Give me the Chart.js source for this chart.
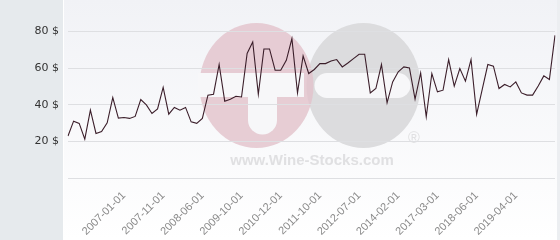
<!DOCTYPE html>
<html>
<head>
<meta charset="utf-8">
<script src="https://cdn.jsdelivr.net/npm/chart.js@4/dist/chart.umd.min.js"></script>
<style>
  html, body { margin: 0; padding: 0; background: #ffffff; }
  #wrap { width: 560px; height: 240px; position: relative; }
</style>
</head>
<body>
<div id="wrap"><canvas id="c" width="560" height="240"></canvas></div>
<script>
// Price per point (in $)
const prices = [
  22.9, 31.0, 29.8, 21.2, 37.0, 24.3, 25.4, 30.1, 43.9, 32.7,
  33.0, 32.5, 33.6, 42.8, 39.9, 35.2, 37.7, 49.4, 34.8, 38.5,
  37.0, 38.5, 30.6, 29.8, 32.5, 45.2, 45.7, 61.9, 41.9, 43.0,
  44.6, 44.2, 67.9, 74.2, 45.7, 70.4, 70.4, 58.8, 58.8, 64.2,
  76.0, 46.4, 66.6, 57.0, 59.2, 62.4, 62.4, 63.8, 64.6, 60.6,
  62.7, 65.1, 67.5, 67.5, 46.4, 48.8, 61.9, 41.0, 52.4, 57.9,
  60.6, 60.0, 43.0, 57.3, 33.4, 57.0, 47.0, 47.9, 64.6, 50.1,
  59.7, 52.8, 64.6, 34.7, 48.3, 61.9, 61.0, 48.8, 51.0, 49.7,
  52.4, 46.4, 45.2, 45.2, 50.2, 55.7, 53.7, 77.8
];
// Visible date tick labels and the point index each one belongs to
const tickDates = ['2007-01-01', '2007-11-01', '2008-06-01', '2009-10-01', '2010-12-01',
  '2011-10-01', '2012-07-01', '2014-02-01', '2017-03-01', '2018-06-01', '2019-04-01'];
const tickPositions = [10, 17, 24, 31, 38, 45, 52, 59, 66, 73, 80];
// Y axis tick values
const yTicks = [0, 20, 40, 60, 80];

const categories = prices.map((_, i) => {
  const k = tickPositions.indexOf(i);
  return k < 0 ? '' : tickDates[k];
});

const backgroundPlugin = {
  id: 'bgAndWatermark',
  beforeDraw(chart) {
    const ctx = chart.ctx;
    const W = chart.width, H = chart.height;
    ctx.save();
    const g = ctx.createLinearGradient(0, 0, 0, H);
    g.addColorStop(0, '#f1f2f6');
    g.addColorStop(1, '#ffffff');
    ctx.fillStyle = g;
    ctx.fillRect(0, 0, W, H);
    ctx.fillStyle = '#e6eaed';
    ctx.fillRect(0, 0, 63, H);
    ctx.fillStyle = '#ffffff';
    ctx.fillRect(63, 0, 1, H);
    ctx.fillStyle = '#eceef1';
    ctx.fillRect(W - 3, 0, 3, H);

    // watermark logo
    ctx.fillStyle = '#dcdcde';
    ctx.beginPath();
    ctx.ellipse(363.5, 85.5, 57, 62.5, 0, 0, Math.PI * 2);
    ctx.fill();
    ctx.fillStyle = 'rgba(226, 194, 202, 0.8)';
    ctx.beginPath();
    ctx.ellipse(256.5, 85.5, 57, 62.5, 0, 0, Math.PI * 2);
    ctx.fill();
    ctx.fillStyle = '#f7f7f9';
    ctx.fillRect(198, 73, 106, 24);
    ctx.beginPath();
    ctx.moveTo(248, 80);
    ctx.lineTo(277, 80);
    ctx.lineTo(277, 120);
    ctx.arc(262.5, 120, 14.5, 0, Math.PI, false);
    ctx.closePath();
    ctx.fill();
    ctx.beginPath();
    ctx.moveTo(327, 73);
    ctx.lineTo(398, 73);
    ctx.arc(398, 85.5, 12.5, -Math.PI / 2, Math.PI / 2, false);
    ctx.lineTo(327, 98);
    ctx.arc(327, 85.5, 12.5, Math.PI / 2, Math.PI * 1.5, false);
    ctx.closePath();
    ctx.fill();
    ctx.fillStyle = '#e0e0e2';
    ctx.font = 'bold 15px "Liberation Sans", Arial, sans-serif';
    ctx.textAlign = 'center';
    ctx.textBaseline = 'middle';
    ctx.fillText('www.Wine-Stocks.com', 312, 161);
    ctx.font = '16px "Liberation Sans", Arial, sans-serif';
    ctx.fillText('®', 414, 139);
    ctx.restore();
  }
};

new Chart(document.getElementById('c'), {
  type: 'line',
  data: {
    labels: categories,
    datasets: [{
      data: prices,
      borderColor: '#3b1e2a',
      borderWidth: 1.1,
      pointRadius: 0,
      tension: 0,
      fill: false
    }]
  },
  options: {
    responsive: false,
    animation: false,
    devicePixelRatio: 1,
    layout: { padding: { top: 13, right: 5, bottom: 0, left: 0 } },
    plugins: { legend: { display: false }, tooltip: { enabled: false } },
    scales: {
      x: {
        grid: { display: false, drawTicks: false },
        border: { display: false },
        afterFit(axis) {
          axis.height = 62;
          axis.paddingLeft = 0;
          axis.paddingRight = 0;
        },
        ticks: {
          autoSkip: false,
          maxRotation: 45,
          minRotation: 45,
          padding: 11,
          color: '#8a8a8a',
          font: { family: '"Liberation Sans", Arial, sans-serif', size: 11 }
        }
      },
      y: {
        min: 0,
        max: 90,
        grid: { color: '#dedfe2', drawTicks: false },
        border: { display: false },
        afterFit(axis) {
          axis.width = 68;
          axis.paddingTop = 0;
          axis.paddingBottom = 0;
        },
        afterBuildTicks(axis) {
          axis.ticks = yTicks.map(v => ({ value: v }));
        },
        ticks: {
          padding: 9,
          color: '#333333',
          font: { family: '"DejaVu Sans", sans-serif', size: 11 },
          callback: (v) => (v === 0 ? '' : v + ' $')
        }
      }
    }
  },
  plugins: [backgroundPlugin]
});
</script>
</body>
</html>
